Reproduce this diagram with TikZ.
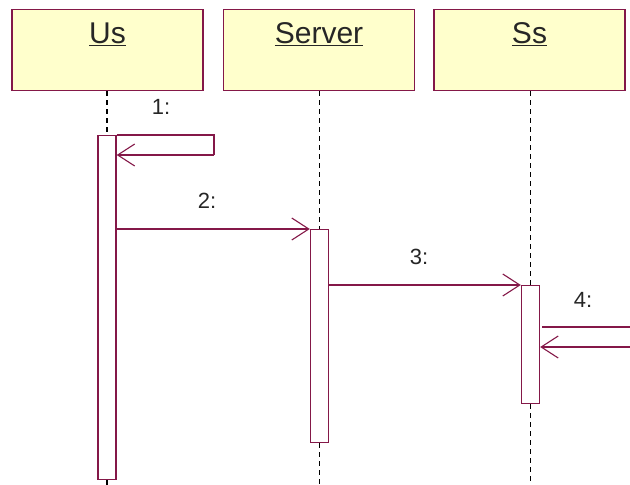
\documentclass[tikz,border=0pt]{standalone}
\usepackage{fontspec}
\setmainfont{Liberation Sans}
\usetikzlibrary{arrows.meta}
\definecolor{umlline}{RGB}{132,24,72}
\definecolor{umlfill}{RGB}{255,255,204}
\tikzset{
  objbox/.style={draw=umlline, line width=1.4pt, fill=umlfill,
    minimum width=191pt, minimum height=81pt, inner sep=0pt,
    anchor=north, align=center},
  objname/.style={font=\fontsize{30}{32}\selectfont, text=black!85},
  lifeline/.style={draw=black, line width=1.3pt, dash pattern=on 5pt off 4pt},
  actbar/.style={draw=umlline, line width=1.4pt, fill=white,
    minimum width=18pt, inner sep=0pt, anchor=north},
  msg/.style={draw=umlline, line width=1.3pt},
  call/.style={msg, -{Straight Barb[length=17pt, width=22pt, line width=1.1pt]}},
  msglabel/.style={font=\fontsize{22}{24}\selectfont, text=black!85}
}
\newcommand{\objtitle}[1]{\underline{#1}}
\begin{document}
\begin{tikzpicture}[x=1pt, y=-1pt]
  \useasboundingbox (0,0) rectangle (630,485);

  % object boxes
  \node[objbox] (us)  at (107.5,9) {};
  \node[objbox] (srv) at (319,9)   {};
  \node[objbox] (ss)  at (529.5,9) {};
  \node[objname] (usname)  at (107.5,34) {\objtitle{Us}};
  \node[objname] (srvname) at (319,34)   {\objtitle{Server}};
  \node[objname] (ssname)  at (529.5,34) {\objtitle{Ss}};

  % activation bars
  \node[actbar, minimum height=344pt] (usa)  at (107,135) {};
  \node[actbar, minimum height=213pt] (srva) at (319.5,229) {};
  \node[actbar, minimum height=118pt] (ssa)  at (530.5,285) {};

  % lifelines
  \coordinate (usend)  at (107,485);
  \coordinate (srvend) at (319.5,485);
  \coordinate (ssend)  at (530.5,485);
  \draw[lifeline] (us.south -| usa.north) -- (usa.north);
  \draw[lifeline] (usa.south) -- (usend);
  \draw[lifeline] (srv.south -| srva.north) -- (srva.north);
  \draw[lifeline] (srva.south) -- (srvend);
  \draw[lifeline] (ss.south -| ssa.north) -- (ssa.north);
  \draw[lifeline] (ssa.south) -- (ssend);

  % 1: self call on Us
  \coordinate (selfturn) at (214,135);
  \coordinate (selfback) at (214,155);
  \draw[msg] (usa.north east) -- (selfturn) -- (selfback);
  \draw[call] (selfback) -- (usa.east |- selfback);
  \node[msglabel] (l1) at (161,107) {1:};

  % 2: Us -> Server
  \draw[call] (usa.east |- srva.north) -- (srva.north west);
  \node[msglabel] (l2) at (207,201) {2:};

  % 3: Server -> Ss
  \draw[call] (srva.east |- ssa.north) -- (ssa.north west);
  \node[msglabel] (l3) at (419,257) {3:};

  % 4: call entering Ss from the right edge
  \coordinate (out4) at (630,327);
  \coordinate (in4)  at (630,347);
  \draw[msg] (out4) -- (542,327);
  \draw[call] (in4) -- (ssa.east |- in4);
  \node[msglabel] (l4) at (583,300) {4:};
\end{tikzpicture}
\end{document}
